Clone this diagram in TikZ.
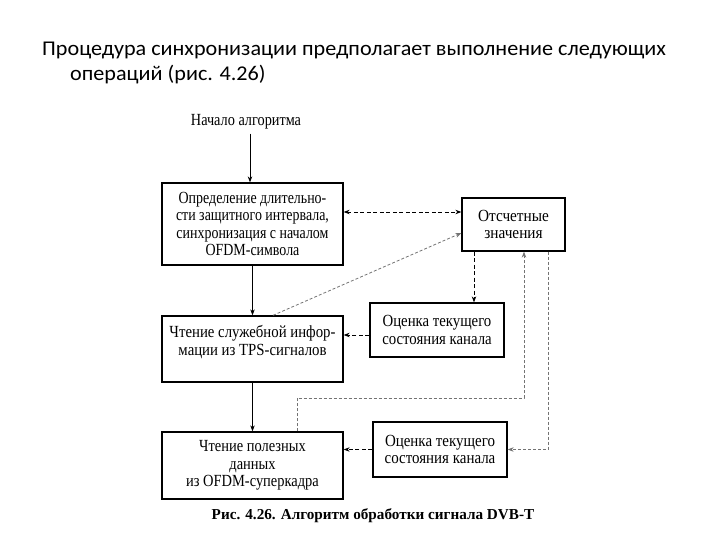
\documentclass[tikz,border=0pt]{standalone}
\usepackage{fontspec}
\setmainfont{Liberation Serif}
\newfontfamily\hdrfont[FakeStretch=1.055]{Carlito}
\newfontfamily\fA[FakeStretch=0.82]{Liberation Serif}
\newfontfamily\fB[FakeStretch=0.9]{Liberation Serif}
\newfontfamily\fC[FakeStretch=0.87]{Liberation Serif}
\newfontfamily\fD[FakeStretch=0.87]{Liberation Serif}
\newfontfamily\fE[FakeStretch=0.85]{Liberation Serif}
\newfontfamily\fF[FakeStretch=0.88]{Liberation Serif}
\newfontfamily\fS[FakeStretch=0.84]{Liberation Serif}
\usetikzlibrary{arrows.meta,calc}
\begin{document}
\begin{tikzpicture}[x=1pt,y=-1pt,
  box/.style={draw,line width=1.3pt,rectangle,inner sep=0pt,align=center},
  bsize/.style={font=#1\fontsize{17}{17.5}\selectfont},
  solidarrow/.style={line width=0.8pt,-{Stealth[length=6pt,width=4.5pt]}},
  blkdash/.style={line width=0.8pt,dash pattern=on 4pt off 2.5pt,-{Stealth[length=6pt,width=4.5pt]}},
  grydash/.style={line width=0.8pt,draw=black!55,dash pattern=on 3pt off 2pt,-{Stealth[length=6pt,width=4.5pt]}}
]
\useasboundingbox (0,0) rectangle (720,540);
% header
\node[anchor=west,inner sep=0pt,font=\hdrfont\fontsize{21}{25}\selectfont] (title1) at (42,50) {Процедура синхронизации предполагает выполнение следующих};
\node[anchor=west,inner sep=0pt,font=\hdrfont\fontsize{21}{25}\selectfont] (title2) at (70,75) {операций (рис. 4.26)};
% nodes
\node[inner sep=0pt,bsize=\fS] (start) at (246,122) {Начало алгоритма};
\node[box,bsize=\fA,minimum width=181pt,minimum height=82pt] (A) at (252.5,224) {Определение длительно-\\сти защитного интервала,\\синхронизация с началом\\OFDM-символа};
\node[box,bsize=\fB,minimum width=103pt,minimum height=53pt] (B) at (513.5,224.5) {Отсчетные\\значения};
\node[box,bsize=\fC,minimum width=181pt,minimum height=66pt] (C) at (252.5,349) {Чтение служебной инфор-\\мации из TPS-сигналов\\\mbox{}};
\node[box,bsize=\fD,minimum width=134pt,minimum height=54pt] (D) at (437,330) {Оценка текущего\\состояния канала};
\node[box,bsize=\fE,minimum width=181pt,minimum height=67pt] (E) at (252.5,465.5) {Чтение полезных\\данных\\из OFDM-суперкадра};
\node[box,bsize=\fF,minimum width=134pt,minimum height=55pt] (F) at (440,449.5) {Оценка текущего\\состояния канала};
\node[inner sep=0pt,font=\bfseries\fontsize{15.2}{17}\selectfont] (cap) at (373,516) {Рис. 4.26. Алгоритм обработки сигнала DVB-T};
% coordinates
\coordinate (e1) at (297,398);
\coordinate (e2) at (524,398);
\coordinate (f1) at (548,449.5);
% solid flow
\draw[solidarrow] ([yshift=-4pt]start.south -| 250,0) -- (250,0 |- A.north);
\draw[solidarrow] (A.south) -- (C.north);
\draw[solidarrow] (C.south) -- (E.north);
% dashed
\draw[blkdash,{Stealth[length=6pt,width=4.5pt]}-{Stealth[length=6pt,width=4.5pt]}] ([yshift=12pt]A.east) -- ([yshift=12pt]A.east -| B.west);
\draw[grydash] ([xshift=20.5pt]C.north) -- ([yshift=-8.5pt]B.west);
\draw[blkdash] ([xshift=-39.5pt]B.south) -- ([xshift=-39.5pt]B.south |- D.north);
\draw[blkdash] ([yshift=-5pt]D.west) -- ([yshift=-5pt]D.west -| C.east);
\draw[grydash] (E.north -| e1) -- (e1) -- (e2) -- (e2 |- B.south);
\draw[grydash] (f1 |- B.south) -- (f1) -- (F.east);
\draw[blkdash] (F.west) -- (F.west -| E.east);
\end{tikzpicture}
\end{document}
